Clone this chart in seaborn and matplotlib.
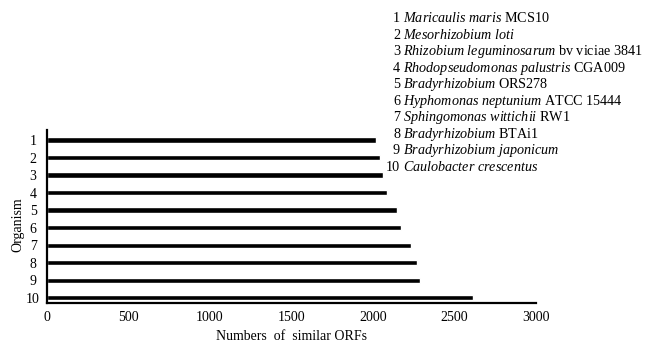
import matplotlib
matplotlib.use("Agg")
import matplotlib.pyplot as plt
import seaborn as sns
import pandas as pd

organisms = ["1", "2", "3", "4", "5", "6", "7", "8", "9", "10"]
similar_orfs = [2020, 2045, 2062, 2085, 2145, 2172, 2235, 2272, 2290, 2615]
species = ["Maricaulis maris", "Mesorhizobium loti", "Rhizobium leguminosarum",
           "Rhodopseudomonas palustris", "Bradyrhizobium", "Hyphomonas neptunium",
           "Sphingomonas wittichii", "Bradyrhizobium", "Bradyrhizobium japonicum",
           "Caulobacter crescentus"]
strains = ["MCS10", "", "bv viciae 3841", "CGA009", "ORS278", "ATCC 15444",
           "RW1", "BTAi1", "", ""]
x_ticks = [0, 500, 1000, 1500, 2000, 2500, 3000]

sns.set_theme(style="white")
plt.rcParams["font.family"] = ["Liberation Serif", "DejaVu Serif"]
plt.rcParams["mathtext.fontset"] = "custom"
plt.rcParams["mathtext.rm"] = "Liberation Serif"
plt.rcParams["mathtext.it"] = "Liberation Serif:italic"
for k in ["text.color", "axes.labelcolor", "xtick.color", "ytick.color"]:
    plt.rcParams[k] = "black"

df = pd.DataFrame({"Organism": organisms, "ORFs": similar_orfs})

W, H = 648, 343
fig = plt.figure(figsize=(W / 100, H / 100), dpi=100)
ax = fig.add_axes([47 / W, 1 - 303 / H, (536 - 47) / W, (303 - 130) / H])

sns.barplot(data=df, x="ORFs", y="Organism", orient="h", color="black",
            width=0.3, ax=ax, order=organisms)

ax.set_xlim(0, 3000)
ax.set_ylim(9.3, -0.57)
ax.set_xticks(x_ticks)
ax.set_xticklabels([str(t) for t in x_ticks], fontsize=10)
for lab in ax.get_yticklabels():
    lab.set_fontsize(10)
    lab.set_horizontalalignment("center")
ax.tick_params(axis="y", length=0, pad=10)
ax.tick_params(axis="x", length=0, pad=6)
for s in ["top", "right"]:
    ax.spines[s].set_visible(False)
for s in ["left", "bottom"]:
    ax.spines[s].set_color("black")
    ax.spines[s].set_linewidth(1.6)

ax.set_xlabel("Numbers  of  similar ORFs", fontsize=10)
ax.set_ylabel("Organism", fontsize=10)
ax.xaxis.set_label_coords(0.5, -(336 - 303) / (303 - 130), transform=ax.transAxes)
ax.yaxis.set_label_coords(-(47 - 18) / (536 - 47), (303 - 225) / (303 - 130))
ax.xaxis.label.set_verticalalignment("center")
ax.yaxis.label.set_verticalalignment("center")

# organism key
for i, (num, sp, st) in enumerate(zip(organisms, species, strains)):
    yb = 22 + 16.55 * i
    fig.text(400 / W, 1 - yb / H, num, ha="right", va="baseline", fontsize=10.2)
    label = "$\\mathit{" + sp.replace(" ", "\\ ") + "}$"
    if st:
        label += " " + st
    fig.text(403 / W, 1 - yb / H, label, ha="left", va="baseline", fontsize=10.2)

fig.savefig("out.png", dpi=100)
